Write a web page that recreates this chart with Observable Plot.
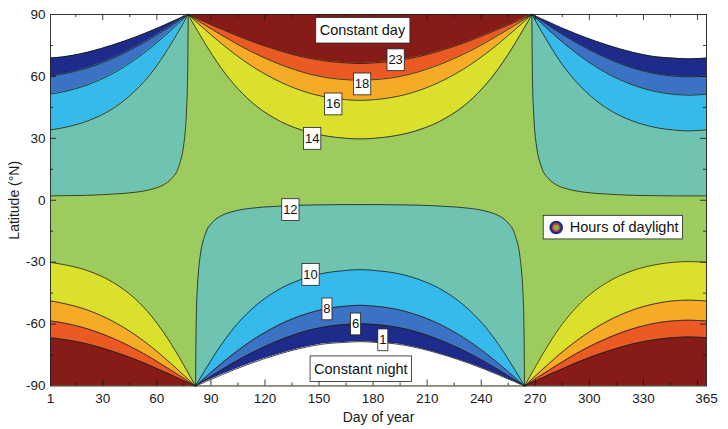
<!DOCTYPE html>
<html>
<head>
<meta charset="utf-8">
<script src="https://cdn.jsdelivr.net/npm/d3@7"></script>
<script src="https://cdn.jsdelivr.net/npm/@observablehq/plot@0.6"></script>
<style>
  html, body { margin: 0; padding: 0; background: #fff; }
  svg { display: block; }
</style>
</head>
<body>
<div id="chart"></div>
<script>
// ---------- DATA ----------
// Contour latitudes (degrees from the equator) for a sequence of declination states
// index: 0 pole, 1 equinox, 2..17 increasing |declination|
const summer14 = [90, 86.8, 83.7, 83.3, 82.9, 82.2, 81.0, 80.0, 75.6, 70.1, 63.7, 56.0, 48.0, 39.9, 34.1, 31.0, 30.1, 29.7];
const summer16 = [90, 88.4, 86.7, 86.5, 86.3, 85.9, 85.3, 84.8, 82.5, 79.5, 75.8, 71.0, 65.4, 58.8, 53.2, 49.8, 48.8, 48.4];
const summer18 = [90, 88.9, 87.7, 87.6, 87.4, 87.1, 86.7, 86.3, 84.7, 82.6, 80.0, 76.4, 72.2, 67.0, 62.3, 59.3, 58.5, 58.1];
const summer23 = [90, 89.2, 88.4, 88.3, 88.2, 88.0, 87.7, 87.4, 86.3, 84.7, 82.9, 80.3, 77.2, 73.3, 69.6, 67.3, 66.6, 66.2];
const winter12 = [90, 90, 90, 67.8, 56.4, 44.0, 33.7, 27.4, 16.2, 10.6, 7.4, 5.3, 3.9, 3.0, 2.4, 2.2, 2.1, 2.1];
const winter10 = [90, 90, 90, 89.7, 89.4, 88.6, 87.5, 86.3, 81.9, 76.3, 69.7, 61.6, 53.3, 44.6, 38.4, 35.0, 34.1, 33.6];
const winter8  = [90, 90, 90, 89.9, 89.7, 89.3, 88.7, 88.1, 85.8, 82.7, 79.0, 74.1, 68.4, 61.6, 55.9, 52.4, 51.4, 50.9];
const winter6  = [90, 90, 90, 89.9, 89.8, 89.5, 89.1, 88.6, 87.0, 84.8, 82.1, 78.5, 74.2, 68.9, 64.1, 61.1, 60.2, 59.8];
const winter1  = [90, 90, 90, 90.0, 89.8, 89.6, 89.3, 89.1, 87.9, 86.5, 84.6, 82.1, 79.1, 75.3, 71.7, 69.4, 68.9, 68.5];
const poleLat = 90;

// North summer (days with state index)
const nsDay = [77.4, 79.4, 81.5, 84, 87, 91, 96, 103, 112, 125, 140, 155, 164, 172.75, 181.5, 190.5, 205.5, 220.5, 233.5, 242.5, 249.5, 254.5, 258.5, 261.5, 264, 266.1, 268.1];
const nsIdx = [0, 1, 2, 7, 8, 9, 10, 11, 12, 13, 14, 15, 16, 17, 16, 15, 14, 13, 12, 11, 10, 9, 8, 7, 2, 1, 0];
// South summer
const ssDay = [1, 7.2, 21.5, 35.9, 48.3, 56.9, 63.5, 68.3, 72.1, 75.0, 77.4, 79.4, 81.5, null, 264, 266.1, 268.1, 270.5, 273.4, 277.2, 281.9, 288.6, 297.2, 309.6, 324, 338.3, 346, 355.25, 365];
const ssIdx = [16, 15, 14, 13, 12, 11, 10, 9, 8, 7, 2, 1, 0, null, 0, 1, 2, 7, 8, 9, 10, 11, 12, 13, 14, 15, 16, 17, 16];
// North winter
const nwDay = [1, 7.2, 21.5, 35.9, 48.3, 56.9, 63.5, 68.3, 72.1, 75.0, 75.8, 76.5, 77.0, 77.2, 77.4, null, 268.1, 268.3, 268.5, 269.0, 269.7, 270.5, 273.4, 277.2, 281.9, 288.6, 297.2, 309.6, 324, 338.3, 346, 355.25, 365];
const nwIdx = [16, 15, 14, 13, 12, 11, 10, 9, 8, 7, 6, 5, 4, 3, 0, null, 0, 3, 4, 5, 6, 7, 8, 9, 10, 11, 12, 13, 14, 15, 16, 17, 16];
// South winter
const swDay = [81.5, 81.7, 81.9, 82.4, 83.2, 84, 87, 91, 96, 103, 112, 125, 140, 155, 164, 172.75, 181.5, 190.5, 205.5, 220.5, 233.5, 242.5, 249.5, 254.5, 258.5, 261.5, 262.3, 263.1, 263.6, 263.8, 264];
const swIdx = [0, 3, 4, 5, 6, 7, 8, 9, 10, 11, 12, 13, 14, 15, 16, 17, 16, 15, 14, 13, 12, 11, 10, 9, 8, 7, 6, 5, 4, 3, 0];

// Contour labels
const clabelText = ["23", "18", "16", "14", "12", "10", "8", "6", "1"];
const clabelDay  = [192.5, 173.9, 157.9, 146.2, 134.1, 145.3, 154.4, 170.3, 185.4];
const clabelLat  = [67.9, 56.2, 46.5, 29.8, -4.7, -36.1, -52.8, -60.1, -67.8];
// Region labels
const regionText = ["Constant day", "Constant night"];
const regionDay  = [174.1, 173.2];
const regionLat  = [82.2, -81.8];
// Legend
const legendText = ["Hours of daylight"];
const legendDay  = [289.1];
const legendLat  = [-13.2];

// Axis ticks
const xTicks = [1, 30, 60, 90, 120, 150, 180, 210, 240, 270, 300, 330, 365];
const yTicks = [-90, -60, -30, 0, 30, 60, 90];
const xMajorInner = [30, 60, 90, 120, 150, 180, 210, 240, 270, 300, 330, 360];
const xMinorInner = [15, 45, 75, 105, 135, 165, 195, 225, 255, 285, 315, 345];
const yMajorInner = [-60, -30, 0, 30, 60];
const yMinorInner = [-75, -45, -15, 15, 45, 75];

// ---------- STYLE ----------
const C = {
  darkred: "#861b17", orangered: "#ea5a22", orange: "#f6ab27", yellow: "#dbe02c",
  green: "#9dcb5d", teal: "#6ec3b1", lightblue: "#36baeb", blue: "#3c72c3",
  darkblue: "#1f2b8a", white: "#ffffff", line: "#1c1c1c"
};
const W = 728, H = 429, mt = 14, mb = 43.5, ml = 50, mr = 22;
const plotW = W - ml - mr, plotH = H - mt - mb;
const font = "'Liberation Sans', Arial, Helvetica, sans-serif";

// ---------- BUILD ----------
const profile = {s14: summer14, s16: summer16, s18: summer18, s23: summer23,
                 w12: winter12, w10: winter10, w8: winter8, w6: winter6, w1: winter1};
const summerKeys = ["s14", "s16", "s18", "s23"];
const winterKeys = ["w12", "w10", "w8", "w6", "w1"];

function makeRows(days, idx, sign, keys) {
  return days.map((day, i) => {
    const k = idx[i];
    const row = {day: k == null ? NaN : day};
    for (const key of keys) row[key] = k == null ? NaN : sign * profile[key][k];
    row.pole = k == null ? NaN : sign * poleLat;
    return row;
  });
}
const ns = makeRows(nsDay, nsIdx, 1, summerKeys);
const ss = makeRows(ssDay, ssIdx, -1, summerKeys);
const nw = makeRows(nwDay, nwIdx, 1, winterKeys);
const sw = makeRows(swDay, swIdx, -1, winterKeys);

const summerBands = [["s14", "s16", C.yellow], ["s16", "s18", C.orange], ["s18", "s23", C.orangered], ["s23", "pole", C.darkred]];
const winterBands = [["w12", "w10", C.teal], ["w10", "w8", C.lightblue], ["w8", "w6", C.blue], ["w6", "w1", C.darkblue], ["w1", "pole", C.white]];

const bandMarks = (rows, bands) => bands.map(([a, b, fill]) =>
  Plot.areaY(rows, {x: "day", y1: a, y2: b, fill, curve: "monotone-x"}));
const lineMarks = (rows, keys) => keys.map(k =>
  Plot.line(rows, {x: "day", y: k, curve: "monotone-x", stroke: C.line, strokeWidth: 0.8}));

const clabels = clabelText.map((t, i) => ({t, day: clabelDay[i], lat: clabelLat[i]}));
const regions = regionText.map((t, i) => ({t, day: regionDay[i], lat: regionLat[i]}));
const legend = legendText.map((t, i) => ({t, day: legendDay[i], lat: legendLat[i]}));

const chart = Plot.plot({
  width: W, height: H,
  marginTop: mt, marginBottom: mb, marginLeft: ml, marginRight: mr,
  style: {fontFamily: font, fontSize: "13.5px", color: "#1a1a1a", background: "#fff"},
  x: {domain: [1, 365], ticks: xTicks, tickSize: 0, tickPadding: 7, tickFormat: d => String(d), label: null},
  y: {domain: [-90, 90], ticks: yTicks, tickSize: 0, tickPadding: 5, tickFormat: d => String(d), label: null},
  marks: [
    Plot.frame({fill: C.green}),
    ...bandMarks(ns, summerBands),
    ...bandMarks(ss, summerBands),
    ...bandMarks(nw, winterBands),
    ...bandMarks(sw, winterBands),
    ...lineMarks(ns, summerKeys),
    ...lineMarks(ss, summerKeys),
    ...lineMarks(nw, winterKeys),
    ...lineMarks(sw, winterKeys),
    // inner ticks (MATLAB style)
    Plot.tickX(xMajorInner, {x: d => d, insetTop: plotH - 6, stroke: "#111", strokeWidth: 0.8}),
    Plot.tickX(xMajorInner, {x: d => d, insetBottom: plotH - 6, stroke: "#111", strokeWidth: 0.8}),
    Plot.tickX(xMinorInner, {x: d => d, insetTop: plotH - 3, stroke: "#111", strokeWidth: 0.8}),
    Plot.tickX(xMinorInner, {x: d => d, insetBottom: plotH - 3, stroke: "#111", strokeWidth: 0.8}),
    Plot.tickY(yMajorInner, {y: d => d, insetRight: plotW - 6, stroke: "#111", strokeWidth: 0.8}),
    Plot.tickY(yMajorInner, {y: d => d, insetLeft: plotW - 6, stroke: "#111", strokeWidth: 0.8}),
    Plot.tickY(yMinorInner, {y: d => d, insetRight: plotW - 3, stroke: "#111", strokeWidth: 0.8}),
    Plot.tickY(yMinorInner, {y: d => d, insetLeft: plotW - 3, stroke: "#111", strokeWidth: 0.8}),
    // labels
    Plot.text(clabels, {x: "day", y: "lat", text: "t", fontSize: 13, fill: "#111", className: "clabel"}),
    Plot.text(regions, {x: "day", y: "lat", text: "t", fontSize: 14.5, fill: "#111", className: "rlabel"}),
    Plot.text(legend, {x: "day", y: "lat", text: "t", fontSize: 14.5, fill: "#111", textAnchor: "start", className: "llabel"}),
    Plot.dot(legend, {x: "day", y: "lat", dx: -13.5, r: 6.8, fill: C.darkblue, stroke: null}),
    Plot.dot(legend, {x: "day", y: "lat", dx: -13.5, r: 4.4, fill: "#c8402c", stroke: null}),
    Plot.dot(legend, {x: "day", y: "lat", dx: -13.5, r: 2.8, fill: "#8fae4a", stroke: null}),
    // axis titles
    Plot.text(["Day of year"], {frameAnchor: "bottom", lineAnchor: "middle", textAnchor: "middle", dy: 32, text: d => d, fontSize: 14, fill: "#1a1a1a"}),
    Plot.text(["Latitude (°N)"], {frameAnchor: "left", lineAnchor: "middle", textAnchor: "middle", dx: -36, rotate: -90, text: d => d, fontSize: 14, fill: "#1a1a1a"}),
    Plot.frame({stroke: "#222", strokeWidth: 0.9})
  ]
});

document.getElementById("chart").append(chart);

// white boxes behind label texts
const svgNS = "http://www.w3.org/2000/svg";
function boxes(cls, px, py, extraLeft = 0, extraRight = 0) {
  chart.querySelectorAll(`g.${cls} text`).forEach(t => {
    const b = t.getBBox();
    const r = document.createElementNS(svgNS, "rect");
    r.setAttribute("x", b.x - px - extraLeft);
    r.setAttribute("y", b.y - py);
    r.setAttribute("width", b.width + 2 * px + extraLeft + extraRight);
    r.setAttribute("height", b.height + 2 * py);
    r.setAttribute("fill", "#fff");
    r.setAttribute("stroke", "#222");
    r.setAttribute("stroke-width", "0.8");
    const tr = t.getAttribute("transform");
    if (tr) r.setAttribute("transform", tr);
    t.parentNode.insertBefore(r, t);
  });
}
boxes("clabel", 1.4, 3.4);
boxes("rlabel", 4, 4.8);
boxes("llabel", 0, 3.8, 26.5, 4);
</script>
</body>
</html>
